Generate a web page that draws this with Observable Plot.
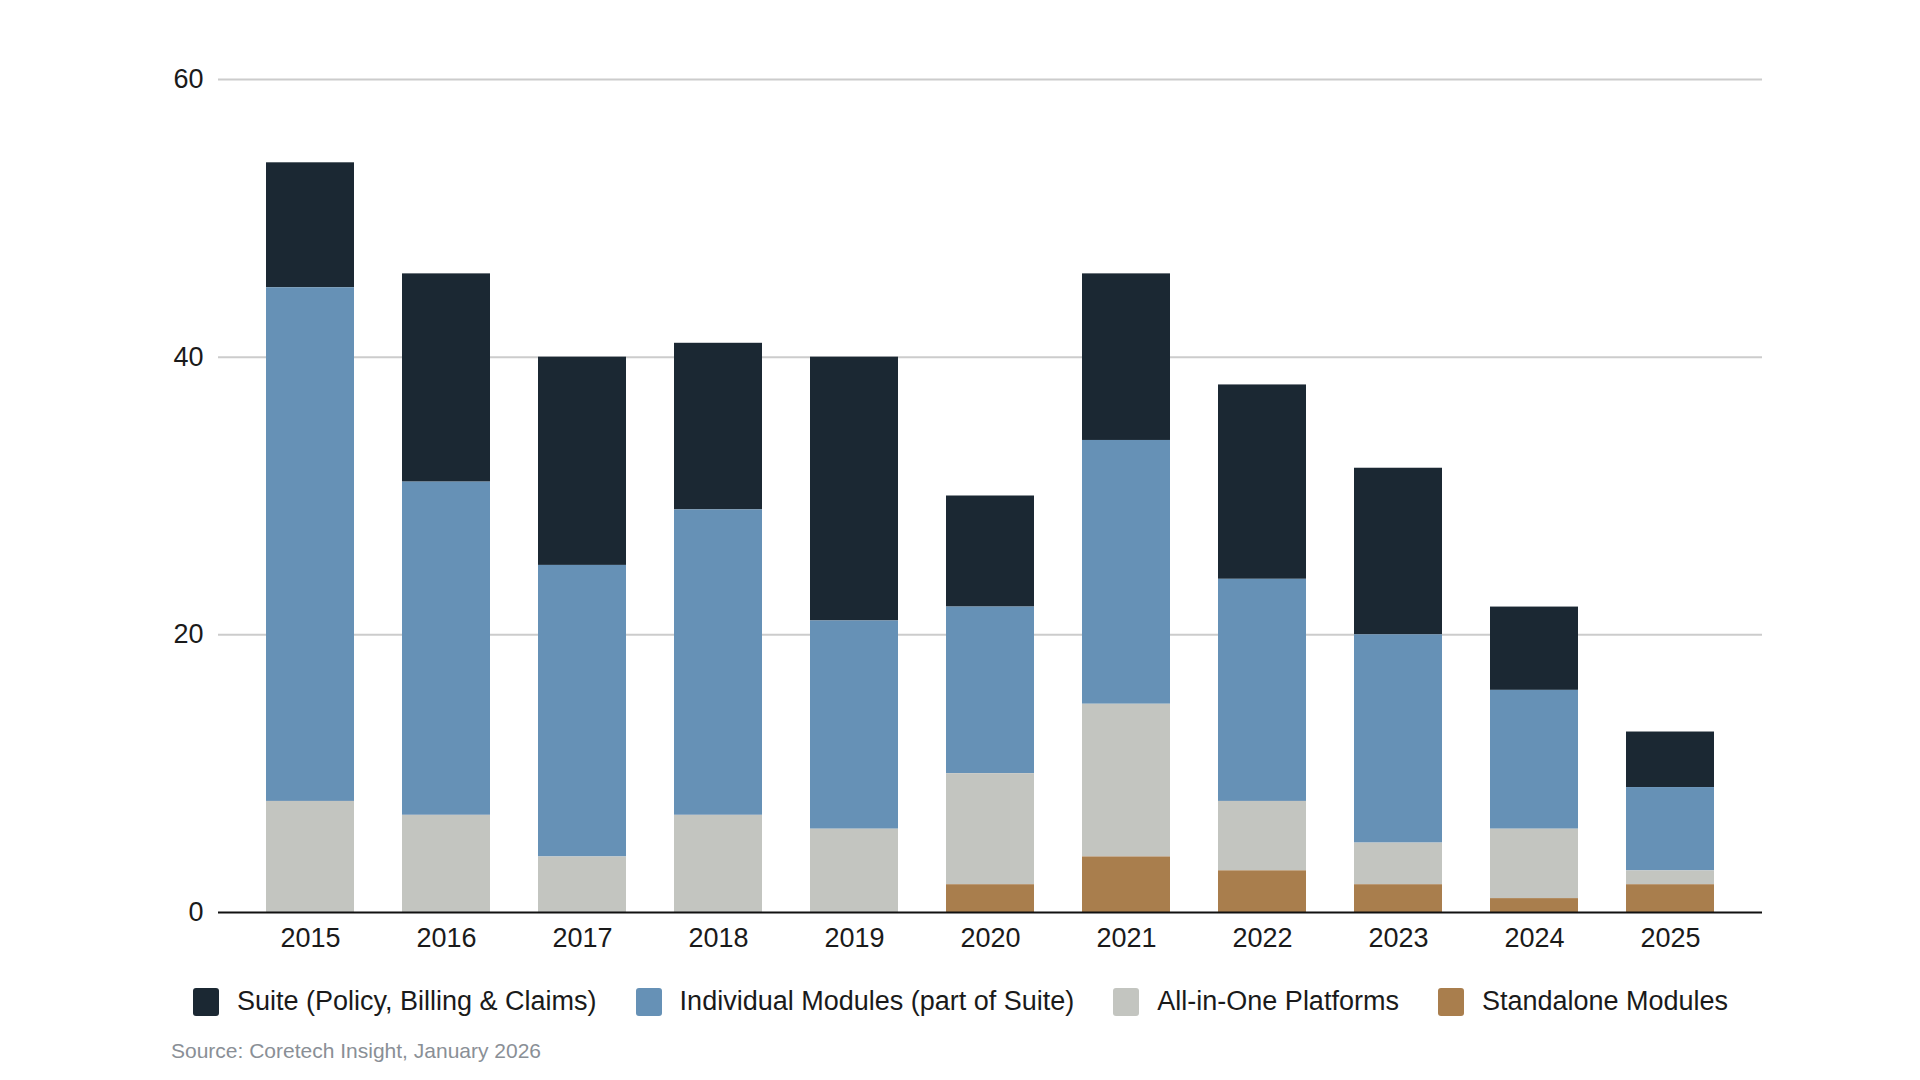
<!DOCTYPE html>
<html>
<head>
<meta charset="utf-8">
<script src="https://cdn.jsdelivr.net/npm/d3@7"></script>
<script src="https://cdn.jsdelivr.net/npm/@observablehq/plot@0.6"></script>
<style>
  html, body { margin: 0; padding: 0; background: #fff; }
  body { position: relative; width: 1920px; height: 1080px; overflow: hidden; font-family: "Liberation Sans", Arial, sans-serif; }
  #chart svg { display: block; }
  #legend { position: absolute; left: 193px; top: 986px; display: flex; align-items: center; font-size: 27px; color: #1a1a1a; white-space: nowrap; }
  .item { display: flex; align-items: center; margin-right: 39px; }
  .sw { width: 26px; height: 28px; border-radius: 3px; margin-right: 18px; }
  #source { position: absolute; left: 171px; top: 1039px; font-size: 21px; color: #8a8f96; white-space: nowrap; }
</style>
</head>
<body>
<div id="chart"></div>
<div id="legend"></div>
<div id="source">Source: Coretech Insight, January 2026</div>
<script>
const years = ["2015","2016","2017","2018","2019","2020","2021","2022","2023","2024","2025"];
const seriesNames = ["Suite (Policy, Billing & Claims)", "Individual Modules (part of Suite)", "All-in-One Platforms", "Standalone Modules"];
const seriesColors = ["#1b2833", "#6691b6", "#c3c5c0", "#a97e4d"];
const suite      = [9, 15, 15, 12, 19, 8, 12, 14, 12, 6, 4];
const individual = [37, 24, 21, 22, 15, 12, 19, 16, 15, 10, 6];
const allInOne   = [8, 7, 4, 7, 6, 8, 11, 5, 3, 5, 1];
const standalone = [0, 0, 0, 0, 0, 2, 4, 3, 2, 1, 2];
const yTicks = [0, 20, 40, 60];

const valuesBySeries = [suite, individual, allInOne, standalone];
const data = [];
years.forEach((yr, i) => {
  seriesNames.forEach((s, j) => {
    data.push({year: yr, series: s, value: valuesBySeries[j][i]});
  });
});
const stackOrder = [seriesNames[3], seriesNames[2], seriesNames[1], seriesNames[0]];

const chart = Plot.plot({
  width: 1920,
  height: 970,
  marginLeft: 218,
  marginRight: 158,
  marginTop: 79,
  marginBottom: 58,
  style: { fontFamily: "Liberation Sans, Arial, sans-serif", fontSize: "27px", color: "#1a1a1a", background: "#fff" },
  x: { domain: years, padding: 0.353, round: false, label: null },
  y: { domain: [0, 60], label: null },
  color: { domain: seriesNames, range: seriesColors },
  marks: [
    Plot.ruleY(yTicks.filter(d => d > 0), { stroke: "#cccccc", strokeWidth: 2 }),
    Plot.barY(data, Plot.stackY({ order: stackOrder }, { x: "year", y: "value", fill: "series", z: "series" })),
    Plot.ruleY([0], { stroke: "#111", strokeWidth: 2 }),
    Plot.axisY({ ticks: yTicks, tickSize: 0, tickPadding: 15, label: null, fontSize: 27 }),
    Plot.axisX({ tickSize: 0, tickPadding: 15, label: null, fontSize: 27 })
  ]
});
document.getElementById("chart").appendChild(chart);

const legend = document.getElementById("legend");
seriesNames.forEach((s, j) => {
  const item = document.createElement("div");
  item.className = "item";
  const sw = document.createElement("div");
  sw.className = "sw";
  sw.style.background = seriesColors[j];
  const t = document.createElement("span");
  t.textContent = s;
  item.appendChild(sw);
  item.appendChild(t);
  legend.appendChild(item);
});
</script>
</body>
</html>
